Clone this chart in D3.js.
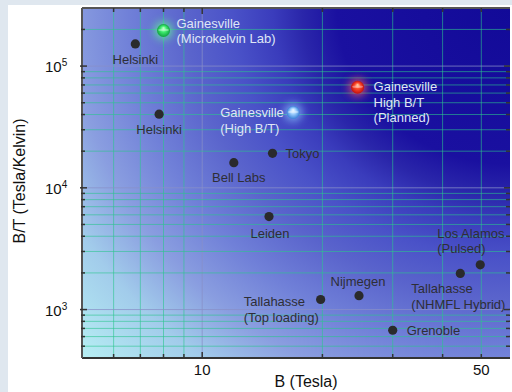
<!DOCTYPE html>
<meta charset="utf-8">
<script src="https://d3js.org/d3.v7.min.js"></script>
<style>
  body { margin: 0; background: #fff; }
  text { font-family: "Liberation Sans", Arial, sans-serif; }
</style>
<div id="chart"></div>
<script>

// magnet labs: field B (Tesla) and B/T (Tesla/Kelvin)
var names = ["Helsinki", "Helsinki", "Gainesville\n(Microkelvin Lab)", "Gainesville\n(High B/T)",
             "Gainesville\nHigh B/T\n(Planned)", "Tokyo", "Bell Labs", "Leiden",
             "Tallahasse\n(Top loading)", "Nijmegen", "Grenoble",
             "Tallahasse\n(NHMFL Hybrid)", "Los Alamos\n(Pulsed)"];
var fieldB = [6.8, 7.8, 8.0, 16.9, 24.5, 15.0, 12.0, 14.7, 19.8, 24.7, 30.0, 44.3, 49.7];
var ratioBT = [152000, 40300, 196000, 41600, 67000, 19200, 16100, 5800, 1210, 1300, 676, 1980, 2330];
// marker kind: plain dot or glowing sphere
var kind = ["dot", "dot", "green", "blue", "red", "dot", "dot", "dot", "dot", "dot", "dot", "dot", "dot"];

var xTickLabels = [10, 50];
var yTickLabels = [1000, 10000, 100000];

// label layout relative to the marker: [dx, dy of first baseline, anchor]
var labelLayout = [
  [0, 20, "middle"], [0, 20, "middle"], [13, -3, "start"], [-73, 5, "start"],
  [16, 4, "start"], [13, 5, "start"], [5, 19, "middle"], [1, 21, "middle"],
  [-77, 7, "start"], [-1, -10, "middle"], [14, 5, "start"],
  [-49, 20, "start"], [-43, -27, "start"]
];
var lightLabel = ["green", "blue", "red"];

var W = 512, H = 392;
var margin = {top: 8, right: 2, bottom: 34, left: 82};
var x0 = margin.left, x1 = W - margin.right, y0 = margin.top, y1 = H - margin.bottom;

var svg = d3.select("#chart").append("svg")
    .attr("width", W).attr("height", H);

// page frame strips
svg.append("rect").attr("x", 0).attr("y", 0).attr("width", W).attr("height", 5).attr("fill", "#dfe7ef");
svg.append("rect").attr("x", 0).attr("y", 0).attr("width", 8).attr("height", H).attr("fill", "#dfe7ef");

var x = d3.scaleLog().domain([5, 59]).range([x0, x1]);
var y = d3.scaleLog().domain([400, 300000]).range([y1, y0]);

var defs = svg.append("defs");

// background: glow, dark at top right, cyan at bottom left
var bg = defs.append("radialGradient").attr("id", "bg")
    .attr("gradientUnits", "userSpaceOnUse")
    .attr("cx", x1).attr("cy", y0).attr("r", 520)
    .attr("gradientTransform", "translate(" + x1 + "," + y0 + ") scale(1.11,1) translate(" + (-x1) + "," + (-y0) + ")");
[[0, "#120a98"], [0.3, "#1a10a0"], [0.36, "#2a26aa"], [0.41, "#3a3cbc"], [0.48, "#4a52c8"],
 [0.56, "#5a64cc"], [0.66, "#7080d8"], [0.76, "#8a9ee0"], [0.86, "#a2cceb"], [1, "#b6eef3"]].forEach(function(s) {
  bg.append("stop").attr("offset", s[0]).attr("stop-color", s[1]);
});

var sphere = {
  green: ["#c8ffd0", "#40f070", "#10a040", "#60ff90"],
  blue:  ["#f0f8ff", "#a0d0ff", "#3a80d8", "#8cc8ff"],
  red:   ["#ffd0a0", "#ff4a2a", "#c01010", "#ff6060"]
};
Object.keys(sphere).forEach(function(k) {
  var g = defs.append("radialGradient").attr("id", "sp-" + k)
      .attr("cx", "50%").attr("cy", "50%").attr("r", "50%").attr("fx", "50%").attr("fy", "30%");
  g.append("stop").attr("offset", 0).attr("stop-color", sphere[k][0]);
  g.append("stop").attr("offset", 0.45).attr("stop-color", sphere[k][1]);
  g.append("stop").attr("offset", 1).attr("stop-color", sphere[k][2]);
});
defs.append("filter").attr("id", "glow").attr("x", "-100%").attr("y", "-100%")
    .attr("width", "300%").attr("height", "300%")
  .append("feGaussianBlur").attr("stdDeviation", 4);

svg.append("rect")
    .attr("x", x0).attr("y", y0).attr("width", x1 - x0).attr("height", y1 - y0)
    .attr("fill", "url(#bg)");

// grid
var isMajor = function(v) { return Math.abs(Math.log10(v) - Math.round(Math.log10(v))) < 1e-6; };
var xt = x.ticks().filter(function(v) { return v > 5; });
var yt = y.ticks().filter(function(v) { return v > 400 && v < 300000; });
var gridColor = function(d) { return isMajor(d) ? "#8890c8" : "#2cc48e"; };
var gridAlpha = function(d) { return isMajor(d) ? 0.75 : 0.6; };

svg.append("g").selectAll("line").data(xt)
  .join("line")
    .attr("x1", function(d) { return x(d); }).attr("x2", function(d) { return x(d); })
    .attr("y1", y0).attr("y2", y1)
    .attr("stroke", gridColor).attr("stroke-opacity", gridAlpha)
    .attr("stroke-width", 1);
svg.append("g").selectAll("line").data(yt)
  .join("line")
    .attr("x1", x0).attr("x2", x1)
    .attr("y1", function(d) { return y(d); }).attr("y2", function(d) { return y(d); })
    .attr("stroke", gridColor).attr("stroke-opacity", gridAlpha)
    .attr("stroke-width", 1);

// frame and inward ticks
var tickLen = function(d) { return isMajor(d) ? 6 : 4; };
var frame = svg.append("g").attr("stroke", "#333");
frame.append("line").attr("x1", x0).attr("x2", x1).attr("y1", y1).attr("y2", y1).attr("stroke-width", 2);
frame.append("line").attr("x1", x0).attr("x2", x1).attr("y1", y0).attr("y2", y0).attr("stroke-width", 2).attr("stroke", "#555");
frame.append("line").attr("x1", x0).attr("x2", x0).attr("y1", y0).attr("y2", y1).attr("stroke-width", 2).attr("stroke", "#555");

frame.selectAll(".xb").data(xt).join("line")
    .attr("x1", function(d) { return x(d); }).attr("x2", function(d) { return x(d); })
    .attr("y1", y1).attr("y2", function(d) { return y1 - tickLen(d); }).attr("stroke-width", 1.5);
frame.selectAll(".xt").data(xt).join("line")
    .attr("x1", function(d) { return x(d); }).attr("x2", function(d) { return x(d); })
    .attr("y1", y0).attr("y2", function(d) { return y0 + tickLen(d); }).attr("stroke-width", 1.5);
frame.selectAll(".yl").data(yt).join("line")
    .attr("y1", function(d) { return y(d); }).attr("y2", function(d) { return y(d); })
    .attr("x1", function(d) { return x0 - (isMajor(d) ? 2 : 1); }).attr("x2", function(d) { return x0 + tickLen(d) - 1; })
    .attr("stroke-width", 1.5);
frame.selectAll(".yr").data(yt).join("line")
    .attr("y1", function(d) { return y(d); }).attr("y2", function(d) { return y(d); })
    .attr("x1", x1).attr("x2", function(d) { return x1 - tickLen(d); })
    .attr("stroke-width", 1.5);

// tick labels
svg.append("g").selectAll("text").data(xTickLabels).join("text")
    .attr("x", function(d) { return x(d); }).attr("y", y1 + 17)
    .attr("text-anchor", "middle").attr("font-size", 15).attr("fill", "#111")
    .text(function(d) { return d; });
var yl = svg.append("g").selectAll("text").data(yTickLabels).join("text")
    .attr("x", 45).attr("y", function(d) { return y(d) + 6; })
    .attr("font-size", 15).attr("fill", "#111");
yl.append("tspan").text("10");
yl.append("tspan").attr("dy", -6).attr("font-size", 10)
    .text(function(d) { return Math.round(Math.log10(d)); });

// axis titles
svg.append("text").attr("x", 306).attr("y", 387).attr("text-anchor", "middle")
    .attr("font-size", 16).attr("fill", "#111").text("B (Tesla)");
svg.append("text").attr("transform", "translate(25,181) rotate(-90)")
    .attr("text-anchor", "middle").attr("font-size", 16).attr("fill", "#111")
    .text("B/T (Tesla/Kelvin)");

// markers
var pts = svg.append("g");
names.forEach(function(n, i) {
  var cx = x(fieldB[i]), cy = y(ratioBT[i]);
  if (kind[i] === "dot") {
    pts.append("circle").attr("cx", cx).attr("cy", cy).attr("r", 4.6).attr("fill", "#2a2a2c");
  } else {
    pts.append("circle").attr("cx", cx).attr("cy", cy).attr("r", 9)
        .attr("fill", sphere[kind[i]][3]).attr("opacity", 0.75).attr("filter", "url(#glow)");
    pts.append("circle").attr("cx", cx).attr("cy", cy).attr("r", 6.5)
        .attr("fill", "url(#sp-" + kind[i] + ")");
    pts.append("ellipse").attr("cx", cx).attr("cy", cy - 0.5).attr("rx", 5.5).attr("ry", 1.2)
        .attr("fill", "#fff").attr("opacity", 0.35);
  }
  var lay = labelLayout[i];
  var t = pts.append("text")
      .attr("x", cx + lay[0]).attr("y", cy + lay[1])
      .attr("text-anchor", lay[2]).attr("font-size", 13)
      .attr("fill", lightLabel.indexOf(kind[i]) >= 0 ? "#dfe6f6" : "#2e2e36");
  n.split("\n").forEach(function(line, k) {
    t.append("tspan").attr("x", cx + lay[0]).attr("dy", k === 0 ? 0 : 15.5).text(line);
  });
});

</script>
